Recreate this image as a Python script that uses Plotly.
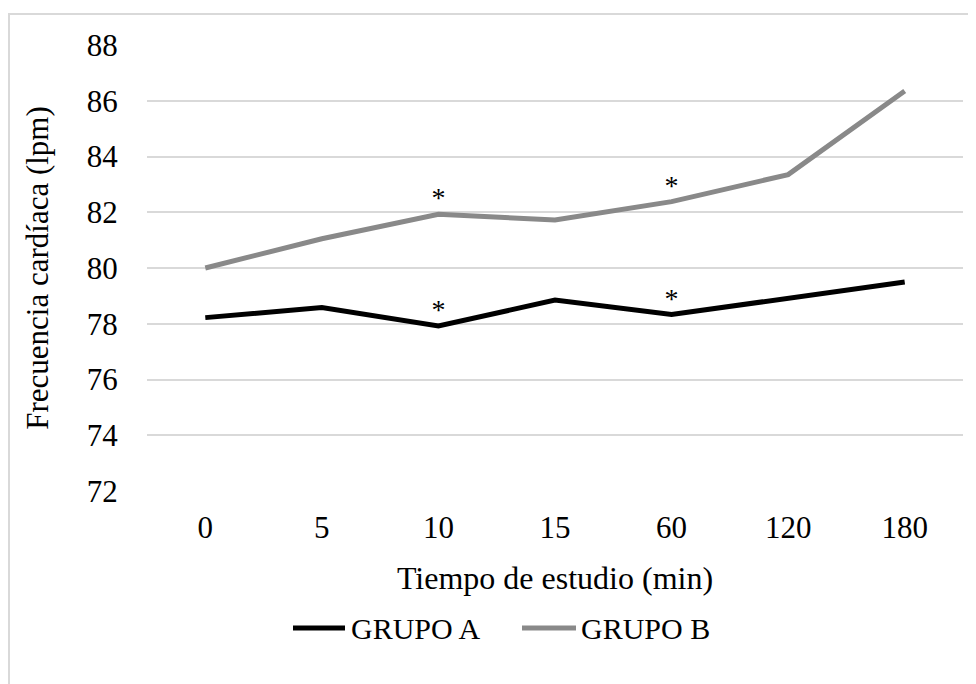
import plotly.graph_objects as go

# Data
tiempos = ["0", "5", "10", "15", "60", "120", "180"]
grupo_a = [78.22, 78.58, 77.92, 78.85, 78.33, 78.90, 79.50]
grupo_b = [80.00, 81.05, 81.93, 81.72, 82.38, 83.35, 86.35]
sig_a = ["", "", "*", "", "*", "", ""]
sig_b = ["", "", "*", "", "*", "", ""]
y_ticks = [72, 74, 76, 78, 80, 82, 84, 86, 88]
series_names = ["GRUPO A", "GRUPO B"]
series_colors = ["#000000", "#898989"]

FONT = "Liberation Serif, Times New Roman, serif"

# page offset (default body margin) and plot area in screen pixels
OFF = 8
PL, PR, PT, PB = 147, 963, 45, 491
PW, PH = PR - PL, PB - PT


def px_x(p):
    return (p - PL) / PW


def px_y(p):
    return (PB - p) / PH


fig = go.Figure()
for name, vals, col in [(series_names[0], grupo_a, series_colors[0]),
                        (series_names[1], grupo_b, series_colors[1])]:
    fig.add_trace(go.Scatter(x=tiempos, y=vals, mode="lines", name=name,
                             line=dict(color=col, width=5), showlegend=False))

for vals, marks in [(grupo_a, sig_a), (grupo_b, sig_b)]:
    fig.add_trace(go.Scatter(x=tiempos, y=vals, mode="text", text=marks,
                             textposition="top center",
                             textfont=dict(family=FONT, size=28, color="#000000"),
                             showlegend=False, hoverinfo="skip"))

# chart border + custom legend (line swatch + label)
shapes = [dict(type="rect", xref="paper", yref="paper",
               x0=px_x(9), x1=px_x(1000), y0=px_y(720), y1=px_y(14),
               line=dict(color="#d9d9d9", width=2), fillcolor="rgba(0,0,0,0)", layer="below")]
annotations = []
leg_y = px_y(628)
for name, col, (l0, l1, t0) in zip(series_names, series_colors,
                                   [(293, 345, 349), (522, 576, 579)]):
    shapes.append(dict(type="line", xref="paper", yref="paper",
                       x0=px_x(l0), x1=px_x(l1), y0=leg_y, y1=leg_y,
                       line=dict(color=col, width=5)))
    annotations.append(dict(xref="paper", yref="paper", x=px_x(t0), y=leg_y,
                            xanchor="left", yanchor="middle", showarrow=False,
                            text=name, font=dict(family=FONT, size=30, color="#000000")))

fig.update_layout(
    width=976, height=684,
    margin=dict(l=PL - OFF, r=976 - (PR - OFF), t=PT - OFF, b=684 - (PB - OFF),
                autoexpand=False),
    paper_bgcolor="white", plot_bgcolor="white",
    font=dict(family=FONT, size=30, color="#000000"),
    showlegend=False,
    xaxis=dict(type="category", range=[-0.5, 6.5], showgrid=False, zeroline=False,
               showline=False, ticks="outside", ticklen=9, tickcolor="rgba(0,0,0,0)",
               tickfont=dict(size=31),
               title=dict(text="Tiempo de estudio (min)", font=dict(size=32), standoff=22)),
    yaxis=dict(range=[72, 88], tickvals=y_ticks, showgrid=True, gridcolor="#d9d9d9",
               gridwidth=1.5, zeroline=False, showline=False,
               ticks="outside", ticklen=22, tickcolor="rgba(0,0,0,0)",
               tickfont=dict(size=31),
               title=dict(text="Frecuencia cardíaca (lpm)", font=dict(size=31), standoff=28)),
    annotations=annotations,
    shapes=shapes,
)

fig.write_html("out.html")
